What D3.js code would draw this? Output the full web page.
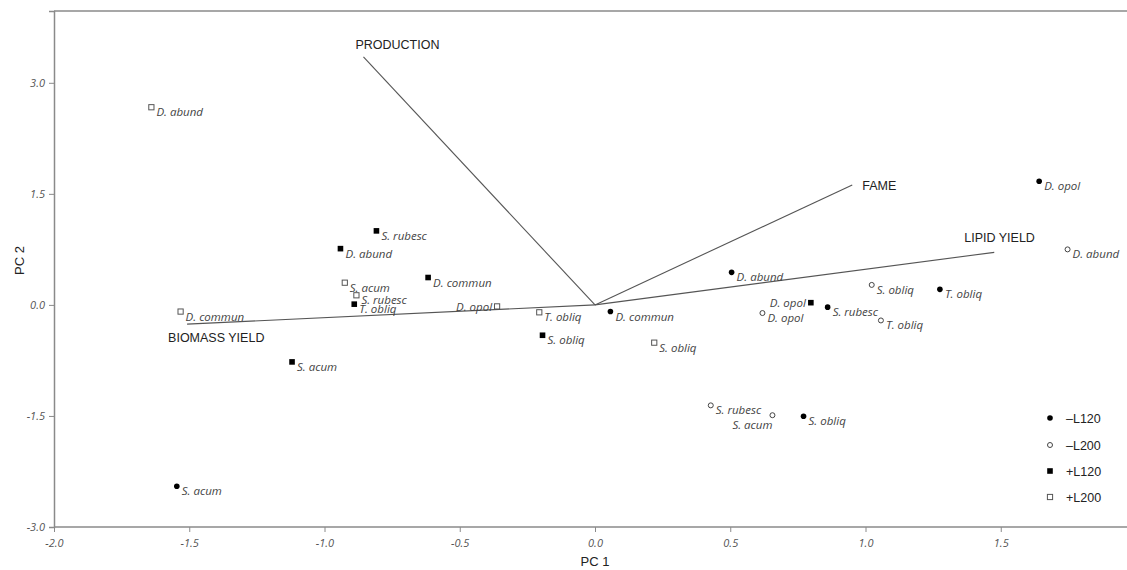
<!DOCTYPE html>
<html>
<head>
<meta charset="utf-8">
<script src="https://cdn.jsdelivr.net/npm/d3@7"></script>
<style>
body { margin: 0; background: #fff; }
svg { display: block; }
.tick text { font-family: "Open Sans", sans-serif; font-style: italic; font-size: 11px; fill: #555; }
.pt-label { font-family: "Open Sans", sans-serif; font-style: italic; font-size: 11.5px; fill: #444; }
.vec-label, .legend text, .axis-title { font-family: Arial, "Liberation Sans", sans-serif; fill: #222; }
</style>
</head>
<body>
<script>
// PCA scores, one list per treatment
const minusL120 = [
  {name: 'D. opol', pc1: 1.642, pc2: 1.67},
  {name: 'D. abund', pc1: 0.505, pc2: 0.44},
  {name: 'T. obliq', pc1: 1.275, pc2: 0.21},
  {name: 'S. rubesc', pc1: 0.86, pc2: -0.03},
  {name: 'D. commun', pc1: 0.057, pc2: -0.09},
  {name: 'S. obliq', pc1: 0.771, pc2: -1.505},
  {name: 'S. acum', pc1: -1.546, pc2: -2.45}
]
const minusL200 = [
  {name: 'D. abund', pc1: 1.747, pc2: 0.75},
  {name: 'S. obliq', pc1: 1.023, pc2: 0.27},
  {name: 'D. opol', pc1: 0.619, pc2: -0.11},
  {name: 'T. obliq', pc1: 1.057, pc2: -0.21},
  {name: 'S. rubesc', pc1: 0.428, pc2: -1.357},
  {name: 'S. acum', pc1: 0.656, pc2: -1.49}
]
const plusL120 = [
  {name: 'S. rubesc', pc1: -0.808, pc2: 1.0},
  {name: 'D. abund', pc1: -0.941, pc2: 0.76},
  {name: 'D. commun', pc1: -0.617, pc2: 0.37},
  {name: 'T. obliq', pc1: -0.89, pc2: 0.01},
  {name: 'S. acum', pc1: -1.12, pc2: -0.77},
  {name: 'S. obliq', pc1: -0.194, pc2: -0.41},
  {name: 'D. opol', pc1: 0.798, pc2: 0.03}
]
const plusL200 = [
  {name: 'D. abund', pc1: -1.64, pc2: 2.67},
  {name: 'S. acum', pc1: -0.925, pc2: 0.30},
  {name: 'S. rubesc', pc1: -0.882, pc2: 0.13},
  {name: 'D. commun', pc1: -1.532, pc2: -0.09},
  {name: 'D. opol', pc1: -0.362, pc2: -0.02},
  {name: 'T. obliq', pc1: -0.206, pc2: -0.10},
  {name: 'S. obliq', pc1: 0.219, pc2: -0.51}
]

// loading vectors
const vectorNames = ['PRODUCTION', 'FAME', 'LIPID YIELD', 'BIOMASS YIELD']
const vectorPC1 = [-0.856, 0.951, 1.476, -1.508]
const vectorPC2 = [3.35, 1.62, 0.71, -0.26]

const xTicks = [-2.0, -1.5, -1.0, -0.5, 0.0, 0.5, 1.0, 1.5]
const yTicks = [-3.0, -1.5, 0.0, 1.5, 3.0]
const legendLabels = ['\u2013L120', '\u2013L200', '+L120', '+L200']

const width = 1127, height = 570

let svg = d3.select('body').append('svg')
.attr('width', width)
.attr('height', height)

let xScale = d3.scaleLinear()
.domain([-2, 2])
.range([54, 54 + 4 * 270.5])

let yScale = d3.scaleLinear()
.domain([-3, 3.97])
.range([527, 11])

// frame top line
svg.append('line')
.attr('x1', xScale(-2)).attr('x2', width)
.attr('y1', yScale(3.97)).attr('y2', yScale(3.97))
.attr('stroke', '#8a8a8a').attr('stroke-width', 1.5)

let xaxis = svg.append('g')
.attr('transform', `translate(0,${yScale(-3)})`)
.call(d3.axisBottom(xScale).tickValues(xTicks).tickSize(5).tickFormat(d => d.toFixed(1)))

xaxis.select('.domain').attr('d', `M${xScale(-2)},0H${width}`)

let yaxis = svg.append('g')
.attr('transform', `translate(${xScale(-2)},0)`)
.call(d3.axisLeft(yScale).tickValues(yTicks).tickSize(5).tickFormat(d => d.toFixed(1)))

svg.selectAll('.domain').attr('stroke', '#8a8a8a').attr('stroke-width', 1.5)
svg.selectAll('.tick line').attr('stroke', '#8a8a8a')
xaxis.selectAll('.tick text').attr('dy', '1.1em')
yaxis.selectAll('.tick text').attr('dx', '-1px')

svg.append('text').attr('class', 'axis-title')
.attr('x', xScale(0)).attr('y', 566)
.attr('text-anchor', 'middle').attr('font-size', 13)
.text('PC 1')

svg.append('text').attr('class', 'axis-title')
.attr('transform', `translate(24,${yScale(0.6)}) rotate(-90)`)
.attr('text-anchor', 'middle').attr('font-size', 13)
.text('PC 2')

// vectors from origin
const vecLabelOffset = {
  'PRODUCTION': [-8, -8, 'start'],
  'FAME': [10, 5, 'start'],
  'LIPID YIELD': [-30, -10, 'start'],
  'BIOMASS YIELD': [-19, 18, 'start']
}

let vectors = svg.append('g')
vectorNames.forEach((name, i) => {
  vectors.append('line')
  .attr('x1', xScale(0)).attr('y1', yScale(0))
  .attr('x2', xScale(vectorPC1[i])).attr('y2', yScale(vectorPC2[i]))
  .attr('stroke', '#555').attr('stroke-width', 1.1)

  let off = vecLabelOffset[name]
  vectors.append('text')
  .attr('class', 'vec-label')
  .attr('x', xScale(vectorPC1[i]) + off[0])
  .attr('y', yScale(vectorPC2[i]) + off[1])
  .attr('text-anchor', off[2])
  .attr('font-size', 12.5)
  .text(name)
})

// markers
const drawMarker = (g, type, cx, cy) => {
  if (type === 'fc') {
    g.append('circle').attr('cx', cx).attr('cy', cy).attr('r', 2.8).attr('fill', '#000')
  } else if (type === 'oc') {
    g.append('circle').attr('cx', cx).attr('cy', cy).attr('r', 2.5)
    .attr('fill', '#fff').attr('stroke', '#444').attr('stroke-width', 1)
  } else if (type === 'fs') {
    g.append('rect').attr('x', cx - 2.8).attr('y', cy - 2.8).attr('width', 5.6).attr('height', 5.6).attr('fill', '#000')
  } else {
    g.append('rect').attr('x', cx - 2.6).attr('y', cy - 2.6).attr('width', 5.2).attr('height', 5.2)
    .attr('fill', '#fff').attr('stroke', '#555').attr('stroke-width', 1)
  }
}

const groups = [
  {data: minusL120, type: 'fc'},
  {data: minusL200, type: 'oc'},
  {data: plusL120, type: 'fs'},
  {data: plusL200, type: 'os'}
]

// labels placed to the left of their marker
const leftLabels = {'fs:D. opol': [-5, 4], 'os:D. opol': [-5, 5], 'oc:S. acum': [0, 14]}

let points = svg.append('g')
let labels = svg.append('g')

groups.forEach(grp => {
  grp.data.forEach(d => {
    let cx = xScale(d.pc1), cy = yScale(d.pc2)
    drawMarker(points, grp.type, cx, cy)
    let left = leftLabels[grp.type + ':' + d.name]
    labels.append('text')
    .attr('class', 'pt-label')
    .attr('x', left ? cx + left[0] : cx + 5)
    .attr('y', left ? cy + left[1] : cy + 9)
    .attr('text-anchor', left ? 'end' : 'start')
    .text(d.name)
  })
})

// legend
let legend = svg.append('g').attr('class', 'legend')
const legendY = [418, 445, 471, 497]
groups.forEach((grp, i) => {
  drawMarker(legend, grp.type, 1050, legendY[i])
  legend.append('text')
  .attr('x', 1066).attr('y', legendY[i] + 4.5)
  .attr('font-size', 12.5)
  .text(legendLabels[i])
})
</script>
</body>
</html>
